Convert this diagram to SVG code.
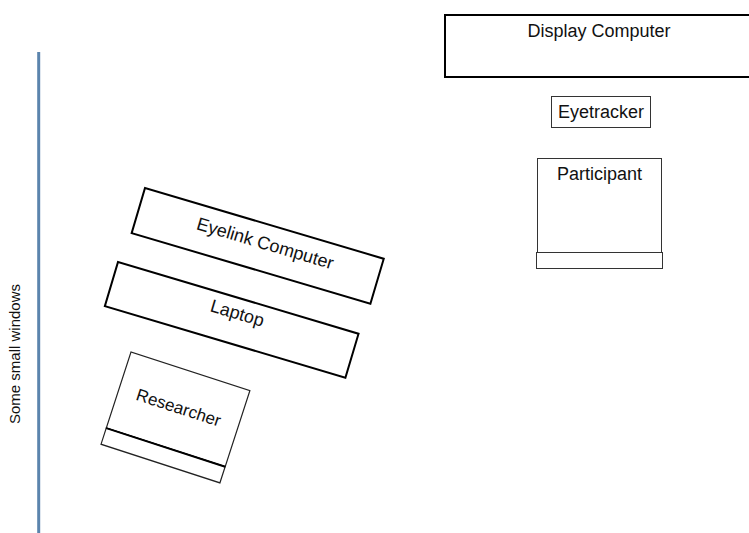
<svg xmlns="http://www.w3.org/2000/svg" width="749" height="533" viewBox="0 0 749 533">
  <style>
    .lbl { font-family: "Liberation Sans", Arial, sans-serif; font-size: 18px; fill: #111; text-anchor: middle; }
    .thick { fill: #fff; stroke: #000; stroke-width: 2; }
    .thin { fill: #fff; stroke: #333; stroke-width: 1; }
  </style>
  <rect x="0" y="0" width="749" height="533" fill="#fff"/>
  <g id="wall">
    <line x1="38.7" y1="52" x2="38.7" y2="533" stroke="#5b84ad" stroke-width="3"/>
    <text class="lbl" style="font-size:15px" transform="translate(20,354) rotate(-90)" x="0" y="0">Some small windows</text>
  </g>
  <g id="display-computer">
    <rect class="thick" x="445" y="15" width="320" height="62"/>
    <text class="lbl" x="599" y="37">Display Computer</text>
  </g>
  <g id="eyetracker">
    <rect class="thin" x="551.5" y="96.5" width="99" height="31"/>
    <text class="lbl" x="601" y="118">Eyetracker</text>
  </g>
  <g id="participant">
    <rect class="thin" x="537.5" y="158.5" width="124" height="94"/>
    <rect class="thin" x="536.5" y="252.5" width="126" height="16"/>
    <text class="lbl" x="599.5" y="180">Participant</text>
  </g>
  <g id="eyelink-computer" transform="translate(145,188) rotate(16.5)">
    <rect class="thick" x="0" y="0" width="249" height="47"/>
    <text class="lbl" x="131" y="25">Eyelink Computer</text>
  </g>
  <g id="laptop" transform="translate(118,262) rotate(16.6)">
    <rect class="thick" x="0" y="0" width="251" height="46"/>
    <text class="lbl" x="129" y="21">Laptop</text>
  </g>
  <g id="researcher" transform="translate(131,352) rotate(18)">
    <rect fill="#fff" stroke="#222" stroke-width="1.2" x="0" y="0" width="125" height="80"/>
    <rect fill="#fff" stroke="#222" stroke-width="1.2" x="0" y="80" width="125" height="17"/>
    <line x1="0" y1="80" x2="125" y2="80" stroke="#000" stroke-width="2"/>
    <text class="lbl" style="font-size:17px" x="62.5" y="44">Researcher</text>
  </g>
  <g id="connectors"></g>
</svg>
